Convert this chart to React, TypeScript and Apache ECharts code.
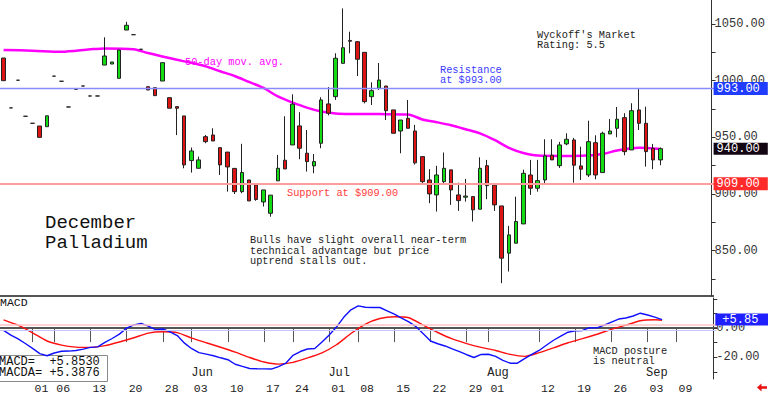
import React, { useEffect, useRef } from 'react';
import * as echarts from 'echarts';

const MONO = '"Liberation Mono", "DejaVu Sans Mono", monospace';

// trading days (2024) plus empty future slots
const dates = [
  '04-25', '04-26', '04-29', '04-30', '05-01', '05-02', '05-03',
  '05-06', '05-07', '05-08', '05-09', '05-10',
  '05-13', '05-14', '05-15', '05-16', '05-17',
  '05-20', '05-21', '05-22', '05-23', '05-24',
  '05-28', '05-29', '05-30', '05-31',
  '06-03', '06-04', '06-05', '06-06', '06-07',
  '06-10', '06-11', '06-12', '06-13', '06-14',
  '06-17', '06-18', '06-20', '06-21',
  '06-24', '06-25', '06-26', '06-27', '06-28',
  '07-01', '07-02', '07-03', '07-05',
  '07-08', '07-09', '07-10', '07-11', '07-12',
  '07-15', '07-16', '07-17', '07-18', '07-19',
  '07-22', '07-23', '07-24', '07-25', '07-26',
  '07-29', '07-30', '07-31', '08-01', '08-02',
  '08-05', '08-06', '08-07', '08-08', '08-09',
  '08-12', '08-13', '08-14', '08-15', '08-16',
  '08-19', '08-20', '08-21', '08-22', '08-23',
  '08-26', '08-27', '08-28', '08-29', '08-30',
  '09-03', '09-04', '09-05',
  '09-06', '09-09', '09-10', '09-11', '09-12', '09-13', '09-16',
];

const opens = [
  1020, 976, 1000.4, 968.6, 962.4, 960, 959.4, 1004, 999.5, 976.8,
  992.4, 995.3, 986.5, 986.5, 1013.8, 1014.7, 1002.1, 1044.7, 1040.6, 1027.7,
  994.7, 993.8, 999.7, 985, 977.1, 968.9, 929.5, 922.7, 950.6, 952.1,
  940.9, 937, 922.6, 902.1, 912.4, 908, 893, 883, 911.6, 929.8,
  943.3, 960.1, 936, 924.8, 944.8, 979.5, 985.9, 1015.3, 1035.5, 1034.4,
  1025, 985.9, 993.3, 995.3, 974.2, 955.6, 966.8, 955.6, 933, 912.4,
  899.2, 910.9, 921.3, 899.2, 897.2, 897.7, 886.6, 925, 907.8, 889.5,
  847.8, 856.6, 873.6, 916.8, 905.1, 912.4, 934.2, 925, 944.2, 947.7,
  924.8, 916.8, 945.3, 918.9, 953, 958, 967.4, 938.9, 974.2, 962.4,
  940.3, 930.1,
];
const closes = [
  1000, 976, 1000.4, 968.6, 962.4, 950, 969, 1004, 999.5, 976.8,
  992.4, 995.3, 986.5, 986.5, 1021.8, 1016.5, 1027.1, 1048.9, 1040.6, 1027.7,
  991.8, 986.8, 1015.9, 975.7, 975.7, 925.7, 938, 930.1, 946.2, 946.8,
  925.7, 923.9, 902.1, 919, 893.9, 895.2, 903.6, 899, 922.7, 922.1,
  979.3, 940.4, 928.6, 928.6, 983, 971.3, 1019.8, 1029.1, 1034.8, 1018.9,
  981.5, 991.2, 1000.6, 973.5, 953.6, 965.3, 958, 927.5, 910.9, 900.1,
  916.8, 922.7, 903.6, 894.2, 898.2, 886, 922.7, 907.4, 890.4, 843.4,
  863.9, 875.7, 918.3, 905.1, 911.8, 933.6, 930.1, 943.3, 948.3, 925.4,
  921.9, 946.2, 916.8, 953.6, 955.6, 966, 937.4, 973.5, 962.4, 937.4,
  930.1, 940,
];
const lows = [
  1000, 976, 1000.4, 968.6, 962.4, 950, 959.4, 1004, 999.5, 976.8,
  992.4, 995.3, 986.5, 986.5, 1013.8, 1014.7, 1002.1, 1044.7, 1040.6, 1027.7,
  991.8, 986.8, 999.7, 975.7, 952, 922.7, 918.9, 922.7, 944.8, 946.8,
  916.8, 902.1, 900, 900.7, 893.9, 894, 889, 880, 911.6, 922.1,
  943.3, 930.7, 919.8, 918.3, 940.4, 969.4, 983, 1015.3, 1024.2, 1004.1,
  980, 978.5, 991.8, 965.3, 953.6, 936, 958, 926, 909, 891.9,
  884.5, 908, 890.4, 885.1, 893.3, 875.7, 886.6, 895.4, 885.1, 821.3,
  831.6, 856.6, 873.6, 899.2, 902.1, 909.7, 930.1, 923, 943, 910,
  912.4, 915, 913, 918.9, 953, 950.1, 934.2, 938.9, 956.5, 924.2,
  921.9, 925.4,
];
const highs = [
  1020, 976, 1000.4, 968.6, 962.4, 960, 969, 1004, 999.5, 976.8,
  992.4, 995.3, 986.5, 986.5, 1038.3, 1016.5, 1027.1, 1052, 1040.6, 1027.7,
  994.7, 993.8, 1015.9, 985, 977.1, 968.9, 941, 933, 952.1, 958,
  940.9, 937, 922.6, 944.3, 912.4, 908, 903.6, 899, 934.5, 968.6,
  988, 972.2, 956.5, 935.3, 985.4, 994.4, 1024.2, 1063.8, 1043.2, 1035,
  1025, 998.6, 1015.6, 995.3, 974.2, 965.3, 983, 961, 933, 921.9,
  924.9, 936.6, 921.3, 910, 913.3, 897.7, 932.4, 930.1, 907.8, 889.5,
  871.9, 897.7, 921.5, 930.1, 930.1, 948.3, 948.3, 946, 953.6, 949.5,
  941.8, 964.7, 951.8, 955, 966.2, 976.8, 971.3, 980.1, 993.3, 977.1,
  944.2, 941,
];

// 50-day moving average, read at these trading-day indices
const maIdx = [0, 4, 8, 12, 14, 18, 20, 22, 24, 26, 28, 30, 32, 34, 36, 38, 40, 42, 44, 46,
  48, 52, 56, 58, 60, 62, 64, 66, 68, 70, 72, 74, 77, 80, 83, 85, 88, 91];
const maVal = [1027.1, 1026.5, 1025.5, 1027.7, 1028.5, 1027.8, 1024.4, 1021.3, 1018.4, 1015.8,
  1012.6, 1008.3, 1004.1, 998.9, 993.6, 986.1, 980.8, 976.2, 972.8, 971.1,
  970.6, 970.5, 970.2, 965.8, 963.4, 960.7, 957.2, 953.5, 947.7, 940.7,
  936.2, 933.9, 933.6, 933.8, 935.4, 938.4, 940.9, 939.8];

const macd = [
  -1.5, -4.8, -7.4, -10.5, -13.9, -17.4, -18.9, -17.0, -15.8, -15.7,
  -15.3, -14.4, -13.2, -12.8, -9.8, -7.1, -4.1, 0.0, 2.2, 3.2,
  1.4, -1.0, -0.6, -2.6, -5.1, -10.3, -14.1, -16.8, -17.8, -18.9,
  -20.3, -21.6, -24.7, -26.2, -27.6, -27.8, -27.9, -28.0, -26.3, -24.0,
  -18.6, -16.0, -14.3, -13.9, -9.5, -4.7, 0.7, 7.4, 12.5, 15.2,
  14.3, 14.1, 14.1, 11.8, 9.5, 6.9, 4.3, 1.0, -3.9, -8.8,
  -10.7, -12.2, -14.2, -16.1, -18.2, -20.1, -18.0, -17.9, -19.3, -22.0,
  -24.0, -24.0, -20.9, -18.0, -15.3, -11.7, -8.3, -5.5, -2.8, -1.9,
  -1.6, 0.3, 0.2, 2.0, 4.1, 6.2, 6.9, 8.3, 10.2, 9.0,
  7.5, 5.85,
];
const sigIdx = [0, 2, 4, 6, 8, 10, 12, 14, 16, 18, 20, 22, 24, 26, 28, 30, 32, 34, 36, 38,
  40, 42, 44, 46, 48, 50, 52, 54, 56, 58, 60, 62, 64, 66, 68, 70, 72, 74, 76, 78,
  80, 82, 84, 86, 88, 90, 91];
const sigVal = [5.7, 2.0, -3.2, -8.8, -11.6, -13.0, -13.2, -12.0, -9.5, -6.6,
  -3.4, -2.5, -3.1, -6.8, -10.0, -13.1, -16.4, -20.1, -23.2, -24.6,
  -23.4, -20.4, -16.9, -11.4, -3.7, 2.8, 6.6, 7.8, 7.1, 2.0,
  -3.0, -7.4, -10.6, -13.2, -15.3, -18.0, -19.3, -16.8, -13.5, -10.0,
  -7.2, -4.2, -0.9, 2.0, 5.0, 5.7, 5.39];

const dayTickDates = ['05-01', '05-06', '05-13', '05-20', '05-28', '06-03', '06-10', '06-17',
  '06-24', '07-01', '07-08', '07-15', '07-22', '07-29', '08-01', '08-12', '08-19', '08-26',
  '09-03', '09-09'];
const monthStarts = ['06-03', '07-01', '08-01', '09-03'];
const monthNames = ['Jun', 'Jul', 'Aug', 'Sep'];

const priceTicks = [825, 850, 875, 900, 925, 950, 975, 1000, 1025, 1050];
const priceLabels = [850, 900, 950, 1000, 1050];
const macdTicks = [-30, -20, -10, 0, 10, 20];
const macdLabels = [-20, 0];
const macdBands = [2.3, -1.7];

const resistance = 993;
const support = 909;
const lastClose = 940;
const macdLast = 5.853;
const macdaLast = 5.3876;

const SLOT = 7.262;
const GRID_LEFT = -2.6;
const GRID_W = dates.length * SLOT;
const HIDDEN = { color: 'rgba(0,0,0,0)', width: 0, type: 'solid' };

function txt(x: number, y: number, text: string, size: number, fill: string) {
  return {
    type: 'text', x, y, silent: true,
    style: { text, fontSize: size, fontFamily: MONO, fill, align: 'left', verticalAlign: 'middle' },
  };
}

function boxLabel(bg: string, padding: number[], prefix = '') {
  return {
    show: true, position: 'end', distance: -1,
    formatter: (p: any) => prefix + Number(p.value).toFixed(2),
    color: '#fff', backgroundColor: bg, padding,
    fontFamily: MONO, fontSize: 12, lineHeight: 12, opacity: 1,
  };
}

export default function App() {
  const ref = useRef<HTMLDivElement>(null);
  useEffect(() => {
    document.body.style.margin = '0';
    const chart = echarts.init(ref.current!, null, { renderer: 'svg' });
    const daySet = new Set(dayTickDates.map((d) => dates.indexOf(d)));
    const monSet = new Set(monthStarts.map((d) => dates.indexOf(d)));
    const candles = opens.map((o, i) => [o, closes[i], lows[i], highs[i]]);
    const option: any = {
      animation: false,
      backgroundColor: '#fff',
      grid: [
        { left: GRID_LEFT, width: GRID_W, top: 0, height: 296 },
        { left: GRID_LEFT, width: GRID_W, top: 298, height: 82 },
      ],
      xAxis: [
        {
          type: 'category', gridIndex: 0, data: dates, boundaryGap: true, offset: 84,
          axisLine: { show: false }, axisTick: { show: false }, splitLine: { show: false },
          axisLabel: {
            inside: true, margin: 1, align: 'left',
            interval: (i: number) => monSet.has(i),
            formatter: (v: string) => monthNames[monthStarts.indexOf(v)] || '',
            fontFamily: MONO, fontSize: 12, color: '#222',
          },
        },
        {
          type: 'category', gridIndex: 1, data: dates, boundaryGap: true,
          axisLine: { show: true, lineStyle: { color: '#555', width: 2 } },
          axisTick: { show: true, alignWithLabel: true, length: 14, interval: (i: number) => daySet.has(i), lineStyle: { color: '#555' } },
          axisLabel: {
            interval: (i: number) => daySet.has(i), margin: 3, align: 'left', padding: [0, 0, 0, 2],
            formatter: (v: string) => v.slice(3), fontFamily: MONO, fontSize: 11.5, color: '#222',
          },
          splitLine: { show: false },
        },
      ],
      yAxis: [
        {
          type: 'value', gridIndex: 0, position: 'right', offset: -3, min: 810, max: 1071.2,
          axisLine: { show: true, lineStyle: { color: '#333' } },
          axisTick: { show: true, length: 4, customValues: priceTicks, lineStyle: { color: '#333' } },
          axisLabel: { customValues: priceLabels, margin: 3, formatter: (v: number) => v.toFixed(2), fontFamily: MONO, fontSize: 12, color: '#333' },
          splitLine: { show: false },
        },
        {
          type: 'value', gridIndex: 1, position: 'right', offset: -3, min: -34.8, max: 20.6,
          axisLine: { show: true, lineStyle: { color: '#333' } },
          axisTick: { show: true, length: 4, customValues: macdTicks, lineStyle: { color: '#333' } },
          axisLabel: { customValues: macdLabels, margin: 3, formatter: (v: number) => v.toFixed(2), fontFamily: MONO, fontSize: 12, color: '#333' },
          splitLine: { show: false },
        },
      ],
      series: [
        {
          type: 'line', xAxisIndex: 0, yAxisIndex: 0, data: maIdx.map((k, i) => [k, maVal[i]]),
          smooth: 0.3, showSymbol: false, symbol: 'none', z: 1,
          lineStyle: { color: '#ff00ff', width: 2.5 },
        },
        {
          type: 'candlestick', xAxisIndex: 0, yAxisIndex: 0, data: candles, barWidth: 4, z: 3,
          itemStyle: {
            color: '#14dc14', color0: '#dc1414', borderColor: '#222', borderColor0: '#222',
            borderColorDoji: '#222', borderWidth: 1,
          },
          markLine: {
            silent: true, symbol: ['none', 'none'],
            data: [
              { yAxis: resistance, lineStyle: { color: '#8a8aff', width: 1.3, type: 'solid' }, label: boxLabel('#1f3cff', [1, 8, 0, 3]) },
              { yAxis: support, lineStyle: { color: '#ff9c9c', width: 2, type: 'solid' }, label: boxLabel('#ff2a2a', [1, 8, 0, 3]) },
              { yAxis: lastClose, lineStyle: HIDDEN, label: boxLabel('#120612', [0, 8, 0, 3]) },
            ],
          },
        },
        {
          type: 'line', xAxisIndex: 1, yAxisIndex: 1, data: sigIdx.map((k, i) => [k, sigVal[i]]),
          smooth: 0.2, symbol: 'none', lineStyle: { color: '#ff1010', width: 1.4 },
          markLine: {
            silent: true, symbol: ['none', 'none'], label: { show: false },
            data: [
              { yAxis: macdBands[0], lineStyle: { color: '#ffc4c4', width: 1.5, type: 'solid' } },
              { yAxis: macdBands[1], lineStyle: { color: '#c4c4ff', width: 1, type: 'solid' } },
            ],
          },
        },
        {
          type: 'line', xAxisIndex: 1, yAxisIndex: 1, data: macd,
          symbol: 'none', lineStyle: { color: '#1010ff', width: 1.4 },
          markLine: {
            silent: true, symbol: ['none', 'none'],
            data: [
              { yAxis: macdLast, lineStyle: HIDDEN, label: boxLabel('#1f1fff', [0, 11, 0, 7], '+') },
            ],
          },
        },
      ],
      graphic: [
        { type: 'rect', silent: true, shape: { x: 0, y: 295, width: 714, height: 2 }, style: { fill: '#555' } },
        txt(45, 223, 'December', 19, '#111'),
        txt(45, 243, 'Palladium', 19, '#111'),
        txt(537, 35, "Wyckoff's Market", 10.3, '#222'),
        txt(537, 45, 'Rating: 5.5', 10.3, '#222'),
        txt(250, 240, 'Bulls have slight overall near-term', 10.3, '#222'),
        txt(250, 250.5, 'technical advantage but price', 10.3, '#222'),
        txt(250, 261, 'uptrend stalls out.', 10.3, '#222'),
        txt(185, 62, '50-day mov. avg.', 10.3, '#ff00ff'),
        txt(440, 69.5, 'Resistance', 10.3, '#3a3aff'),
        txt(440, 79.5, 'at $' + resistance.toFixed(2), 10.3, '#3a3aff'),
        txt(287, 192.7, 'Support at $' + support.toFixed(2), 10.3, '#ff3a3a'),
        txt(0, 302.5, 'MACD', 11.5, '#111'),
        txt(593, 350.7, 'MACD posture', 10.3, '#222'),
        txt(593, 360.7, 'is neutral', 10.3, '#222'),
        {
          type: 'rect', silent: true, shape: { x: -1, y: 355.5, width: 108.5, height: 26 },
          style: { fill: '#fff', stroke: '#8a8a8a', lineWidth: 1 },
        },
        txt(-1, 361.7, 'MACD=  +' + macdLast.toFixed(4), 12, '#111'),
        txt(-1, 372.7, 'MACDA= +' + macdaLast.toFixed(4), 12, '#111'),
        {
          type: 'polygon', silent: true,
          shape: { points: [[757, 387.5], [761.5, 383.5], [761.5, 386.3], [767, 386.3], [767, 388.7], [761.5, 388.7], [761.5, 391.5]] },
          style: { fill: '#e81010' },
        },
      ],
    };
    chart.setOption(option);
    return () => chart.dispose();
  }, []);
  return (
    <div
      ref={ref}
      style={{ position: 'absolute', left: 0, top: 0, width: 768, height: 394, background: '#fff' }}
    />
  );
}
